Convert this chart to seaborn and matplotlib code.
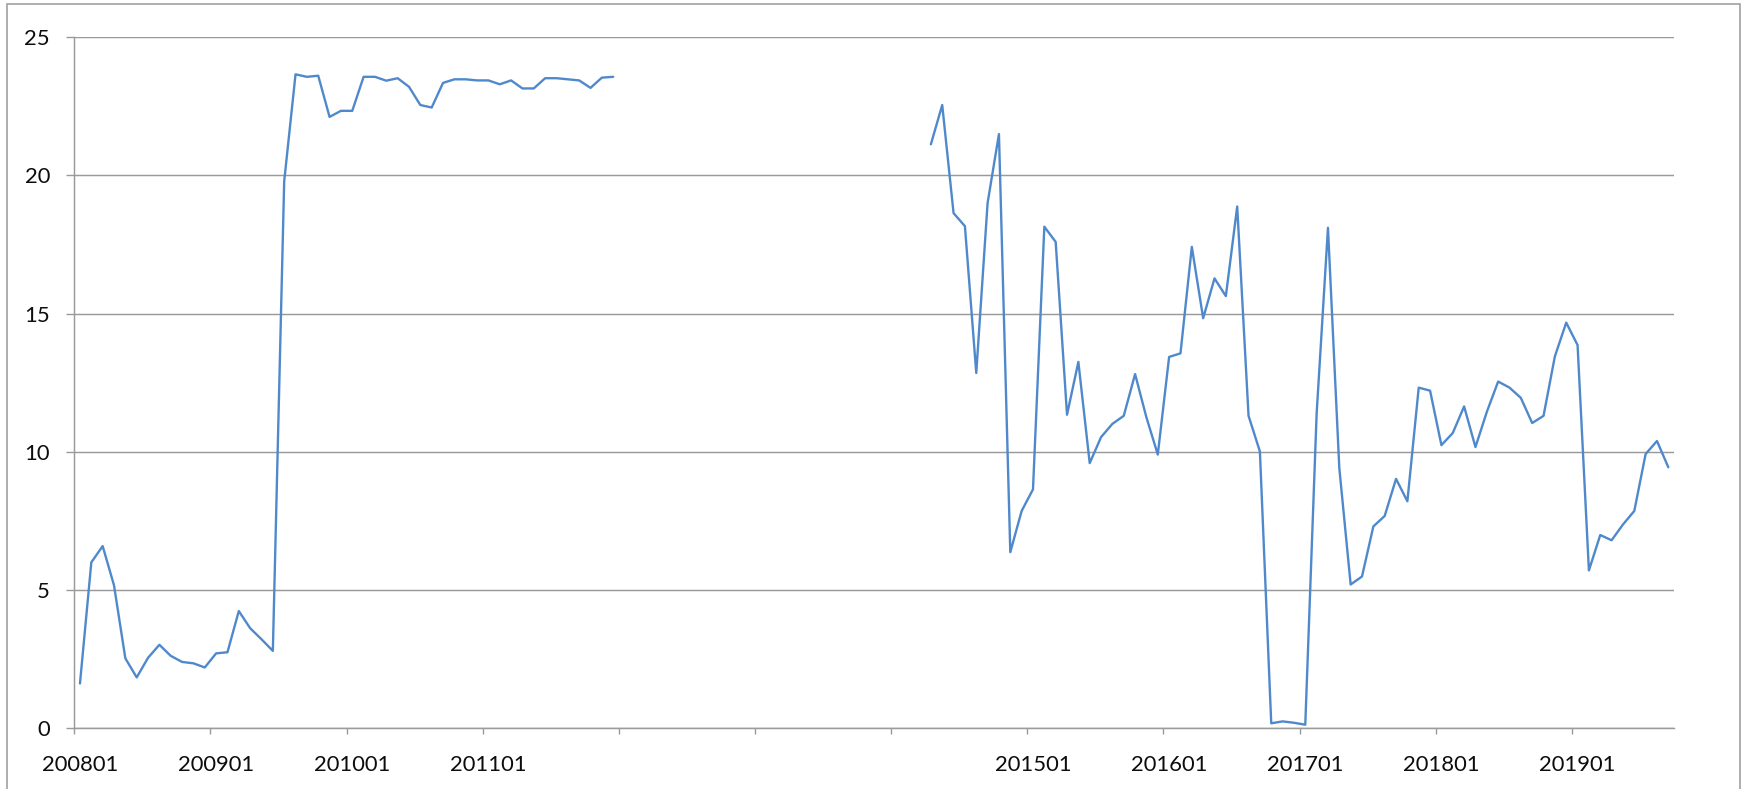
import numpy as np
import pandas as pd
import matplotlib
matplotlib.use("Agg")
import matplotlib.pyplot as plt
import seaborn as sns
from matplotlib.patches import Rectangle

# ---------------- data ----------------
first_month = "2008-01"
last_month = "2019-09"

seg1_start = "2008-01"
seg1_values = [1.62, 6.00, 6.59, 5.17, 2.53, 1.84, 2.55, 3.02, 2.62, 2.40, 2.35, 2.20,
               2.71, 2.75, 4.24, 3.62, 3.22, 2.80, 19.78, 23.65, 23.56, 23.60, 22.11, 22.33,
               22.33, 23.56, 23.56, 23.42, 23.51, 23.20, 22.54, 22.45, 23.34, 23.47, 23.47, 23.43,
               23.43, 23.29, 23.43, 23.14, 23.14, 23.51, 23.51, 23.47, 23.43, 23.16, 23.53, 23.56]

seg2_start = "2014-04"
seg2_values = [21.12, 22.54, 18.63, 18.16, 12.85, 19.00, 21.49, 6.37, 7.86,
               8.64, 18.14, 17.59, 11.34, 13.25, 9.59, 10.53, 11.01, 11.30, 12.81, 11.24, 9.90,
               13.43, 13.56, 17.41, 14.83, 16.27, 15.63, 18.87, 11.30, 10.01, 0.18, 0.25, 0.20,
               0.13, 11.37, 18.10, 9.41, 5.20, 5.49, 7.30, 7.68, 9.02, 8.21, 12.32, 12.21,
               10.24, 10.68, 11.64, 10.17, 11.44, 12.54, 12.32, 11.95, 11.04, 11.30, 13.45, 14.67,
               13.86, 5.71, 6.99, 6.80, 7.37, 7.86, 9.92, 10.39, 9.44]

y_ticks = [0, 5, 10, 15, 20, 25]

# ---------------- frame ----------------
months = pd.period_range(first_month, last_month, freq="M")
labels_all = [m.strftime("%Y%m") for m in months]
rows = []
for seg_id, (start, vals) in enumerate([(seg1_start, seg1_values), (seg2_start, seg2_values)]):
    p0 = pd.Period(start, freq="M")
    for i, v in enumerate(vals):
        k = (p0 + i - months[0]).n
        rows.append({"k": k, "month": labels_all[k], "value": v, "segment": seg_id})
df = pd.DataFrame(rows)
has_data = set(df["k"])

# ---------------- figure ----------------
W, H, DPI = 1748, 789, 100
sns.set_theme(style="white")
plt.rcParams["font.family"] = ["Lato", "DejaVu Sans"]

fig = plt.figure(figsize=(W / DPI, H / DPI), dpi=DPI)
fig.patch.set_facecolor("white")
ax = fig.add_axes([74.3 / W, 1 - 728.3 / H, (1674 - 74.3) / W, (728.3 - 37) / H])

line_color = "#5089cb"
grid_color = "#9a9a9a"

sns.lineplot(data=df, x="k", y="value", units="segment", estimator=None,
             color=line_color, linewidth=1.7, ax=ax)

ax.set_xlim(-0.5, len(months) - 0.5)
ax.set_ylim(0, 25)

# horizontal gridlines
ax.set_yticks(y_ticks)
ax.set_yticklabels([str(t) for t in y_ticks])
ax.yaxis.grid(True, color=grid_color, linewidth=1.05)
ax.xaxis.grid(False)
ax.set_axisbelow(True)

# x: tick marks at category boundaries every 12 months, labels at category centres
jan = [k for k in range(len(months)) if k % 12 == 0]
ax.set_xticks([k - 0.5 for k in jan])
ax.set_xticklabels([])
ax.set_xticks(jan, minor=True)
ax.set_xticklabels([labels_all[k] if k in has_data else "" for k in jan], minor=True)

ax.tick_params(axis="x", which="major", length=4.2, width=1.0, color=grid_color,
               direction="out", bottom=True)
ax.tick_params(axis="x", which="minor", length=0, pad=19.0, labelsize=15.8,
               labelcolor="#0d0d0d", bottom=True)
ax.tick_params(axis="y", which="major", length=5.5, width=1.0, color=grid_color,
               direction="out", left=True, pad=12.0, labelsize=15.8, labelcolor="#0d0d0d")

for side in ["top", "right"]:
    ax.spines[side].set_visible(False)
for side in ["left", "bottom"]:
    ax.spines[side].set_visible(True)
    ax.spines[side].set_color(grid_color)
    ax.spines[side].set_linewidth(1.05)

ax.set_xlabel("")
ax.set_ylabel("")
if ax.get_legend() is not None:
    ax.get_legend().remove()

# chart-area border (Excel style)
fig.patches.append(Rectangle((6.7 / W, -0.05), (1740 - 6.7) / W, 1.05 - 4 / H,
                             transform=fig.transFigure, fill=False,
                             edgecolor="#a8a8a8", linewidth=1.3))

fig.savefig("out.png", dpi=DPI, facecolor="white")
